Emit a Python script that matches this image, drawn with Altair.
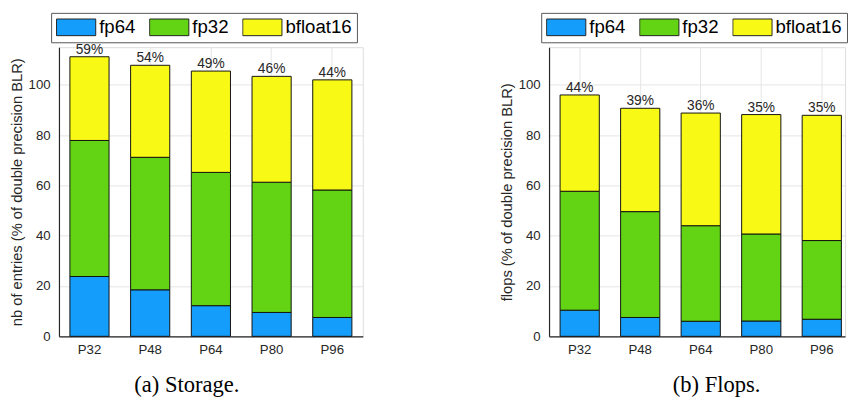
import altair as alt
import pandas as pd

categories = ["P32", "P48", "P64", "P80", "P96"]
precisions = ["fp64", "fp32", "bfloat16"]
colors = ["#149dfb", "#62d414", "#f9f916"]

# segment heights (% of double precision BLR)
storage_fp64 = [23.8, 18.5, 12.2, 9.5, 7.5]
storage_fp32 = [54.1, 52.7, 53.0, 51.8, 50.7]
storage_bf16 = [33.3, 36.6, 40.3, 42.1, 43.8]
storage_pct = ["59%", "54%", "49%", "46%", "44%"]

flops_fp64 = [10.4, 7.5, 6.0, 6.1, 6.8]
flops_fp32 = [47.3, 42.1, 38.0, 34.6, 31.3]
flops_bf16 = [38.3, 41.1, 44.8, 47.5, 49.8]
flops_pct = ["44%", "39%", "36%", "35%", "35%"]

y_ticks = [0, 20, 40, 60, 80, 100]

DARK = "#262626"
SANS = "Liberation Sans"


def panel(fp64, fp32, bf16, pct, ytitle, caption, cap_dx, width, pad_inner, pad_outer, align):
    rows = []
    for i, c in enumerate(categories):
        for k, (p, vals) in enumerate(zip(precisions, [fp64, fp32, bf16])):
            rows.append({"category": c, "precision": p, "value": vals[i], "order": k})
    df = pd.DataFrame(rows)
    totals = pd.DataFrame({
        "category": categories,
        "total": [a + b + c for a, b, c in zip(fp64, fp32, bf16)],
        "pct": pct,
    })

    xscale = alt.Scale(domain=categories, paddingInner=pad_inner, paddingOuter=pad_outer, align=align)
    yscale = alt.Scale(domain=[0, 115], nice=False)

    bars = alt.Chart(df).mark_bar(stroke="#111111", strokeWidth=1).encode(
        x=alt.X("category:N", scale=xscale, sort=categories,
                axis=alt.Axis(title=None, labelFont=SANS, labelFontSize=13.5, labelColor=DARK,
                              labelAngle=0, labelPadding=7, ticks=False,
                              domainColor=DARK, domainWidth=1.2,
                              grid=True, gridColor="#e4e4e4", bandPosition=0.5)),
        y=alt.Y("value:Q", stack="zero", scale=yscale,
                axis=alt.Axis(title=ytitle, values=y_ticks, titleFont=SANS, titleFontSize=15,
                              titleFontWeight="normal", titleColor=DARK, titlePadding=4,
                              labelFont=SANS, labelFontSize=13.5, labelColor=DARK, labelPadding=9,
                              ticks=False, domainColor=DARK, domainWidth=1.2,
                              grid=True, gridColor="#e4e4e4")),
        color=alt.Color("precision:N", scale=alt.Scale(domain=precisions, range=colors),
                        legend=alt.Legend(orient="none", legendX=-8, legendY=-35,
                                          direction="horizontal", title=None,
                                          symbolType="M-1,-0.425H1V0.425H-1Z", symbolSize=1600,
                                          symbolStrokeColor="#222222", symbolStrokeWidth=1,
                                          symbolOpacity=1, clipHeight=19,
                                          labelFont=SANS, labelFontSize=19, labelColor="black",
                                          labelOffset=3, columnPadding=14, padding=5,
                                          strokeColor="#555555", fillColor="white")),
        order=alt.Order("order:Q"),
    )

    labels = alt.Chart(totals).mark_text(baseline="alphabetic", dy=-3, font=SANS,
                                         fontSize=14, color=DARK).encode(
        x=alt.X("category:N", scale=xscale, sort=categories),
        y=alt.Y("total:Q", scale=yscale),
        text="pct:N",
    )

    return alt.layer(bars, labels).properties(
        width=width, height=295,
        title=alt.TitleParams(caption, orient="bottom", anchor="middle", dx=cap_dx, offset=18,
                              font="Liberation Serif", fontSize=23, fontWeight="normal",
                              color="black"),
    )


left = panel(storage_fp64, storage_fp32, storage_bf16, storage_pct,
             "nb of entries (% of double precision BLR)", "(a) Storage.", -24.5,
             310, 0.355, 0.18, 0.5)
right = panel(flops_fp64, flops_fp32, flops_bf16, flops_pct,
              "flops (% of double precision BLR)", "(b) Flops.", 20,
              302, 0.352, 0.1215, 0.75)

chart = alt.hconcat(left, right, spacing=137).resolve_scale(color="independent").resolve_legend(
    color="independent"
).properties(padding=0).configure_view(stroke=None).configure(background="white")

chart.save("out.html", embed_options={"renderer": "svg", "actions": False})
